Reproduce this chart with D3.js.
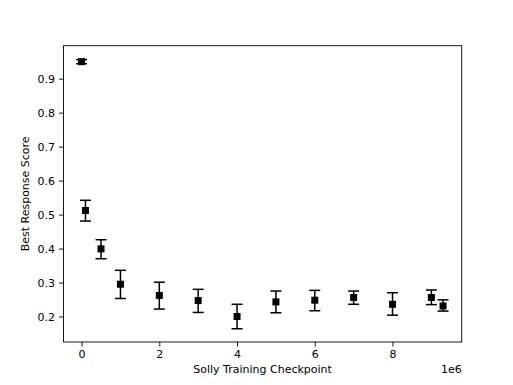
<!DOCTYPE html>
<meta charset="utf-8">
<script src="https://d3js.org/d3.v7.min.js"></script>
<style>
  body { margin: 0; background: #fff; }
  text { font-family: "DejaVu Sans", sans-serif; fill: #000; }
</style>
<div id="chart"></div>
<script>

// checkpoints (in units of 1e6) and best response scores
var checkpoints = [0, 0.1, 0.5, 1, 2, 3, 4, 5, 6, 7, 8, 9, 9.3];
var scores      = [0.950, 0.512, 0.399, 0.295, 0.262, 0.247, 0.200, 0.243, 0.248, 0.256, 0.236, 0.256, 0.231];
var errLow      = [0.944, 0.481, 0.370, 0.253, 0.222, 0.212, 0.164, 0.211, 0.217, 0.236, 0.204, 0.235, 0.216];
var errHigh     = [0.956, 0.542, 0.426, 0.336, 0.301, 0.280, 0.236, 0.275, 0.277, 0.275, 0.270, 0.278, 0.249];

var xTicks = [0, 2, 4, 6, 8];
var yTicks = [0.2, 0.3, 0.4, 0.5, 0.6, 0.7, 0.8, 0.9];

var data = checkpoints.map(function(c, i) {
  return {x: c, y: scores[i], lo: errLow[i], hi: errHigh[i]};
});

var W = 513, H = 385;
var margin = {top: 45.7, right: 51.3, bottom: 43, left: 63.5},
    width = W - margin.left - margin.right,
    height = H - margin.top - margin.bottom;

var svg = d3.select("#chart")
  .append("svg")
    .attr("width", W)
    .attr("height", H)
  .append("g")
    .attr("transform", "translate(" + margin.left + "," + margin.top + ")");

var x = d3.scaleLinear()
  .domain([-0.465, 9.78])
  .range([0, width]);

var y = d3.scaleLinear()
  .domain([0.125, 0.997])
  .range([height, 0]);

// axes
var xAxis = svg.append("g")
  .attr("transform", "translate(0," + height + ")")
  .call(d3.axisBottom(x).tickValues(xTicks).tickSize(4.5).tickPadding(4).tickFormat(d3.format("d")));

var yAxis = svg.append("g")
  .call(d3.axisLeft(y).tickValues(yTicks).tickSize(4.5).tickPadding(4).tickFormat(d3.format(".1f")));

[xAxis, yAxis].forEach(function(a) {
  a.select(".domain").remove();
  a.selectAll("line").attr("stroke", "#000").attr("stroke-width", 0.9);
  a.selectAll("text").style("font-size", "11px").style("font-family", "DejaVu Sans, sans-serif").attr("fill", "#000");
});

// frame
svg.append("rect")
  .attr("width", width)
  .attr("height", height)
  .attr("fill", "none")
  .attr("stroke", "#000")
  .attr("stroke-width", 0.9);

// error bars
var cap = 5.5;
var eb = svg.selectAll(".eb")
  .data(data)
  .enter().append("g")
  .attr("stroke", "#000")
  .attr("stroke-width", 1.5);

eb.append("line")
  .attr("x1", function(d) { return x(d.x); })
  .attr("x2", function(d) { return x(d.x); })
  .attr("y1", function(d) { return y(d.lo); })
  .attr("y2", function(d) { return y(d.hi); });

eb.append("line")
  .attr("x1", function(d) { return x(d.x) - cap; })
  .attr("x2", function(d) { return x(d.x) + cap; })
  .attr("y1", function(d) { return y(d.lo); })
  .attr("y2", function(d) { return y(d.lo); });

eb.append("line")
  .attr("x1", function(d) { return x(d.x) - cap; })
  .attr("x2", function(d) { return x(d.x) + cap; })
  .attr("y1", function(d) { return y(d.hi); })
  .attr("y2", function(d) { return y(d.hi); });

// square markers
var ms = 7;
svg.selectAll(".pt")
  .data(data)
  .enter().append("rect")
  .attr("x", function(d) { return x(d.x) - ms / 2; })
  .attr("y", function(d) { return y(d.y) - ms / 2; })
  .attr("width", ms)
  .attr("height", ms)
  .attr("fill", "#000");

// labels
svg.append("text")
  .attr("x", width / 2)
  .attr("y", height + 31)
  .attr("text-anchor", "middle")
  .style("font-size", "11px")
  .text("Solly Training Checkpoint");

svg.append("text")
  .attr("x", width)
  .attr("y", height + 31)
  .attr("text-anchor", "end")
  .style("font-size", "11px")
  .text("1e6");

svg.append("text")
  .attr("transform", "translate(" + (-35) + "," + (height / 2) + ") rotate(-90)")
  .attr("text-anchor", "middle")
  .style("font-size", "11px")
  .text("Best Response Score");

</script>
